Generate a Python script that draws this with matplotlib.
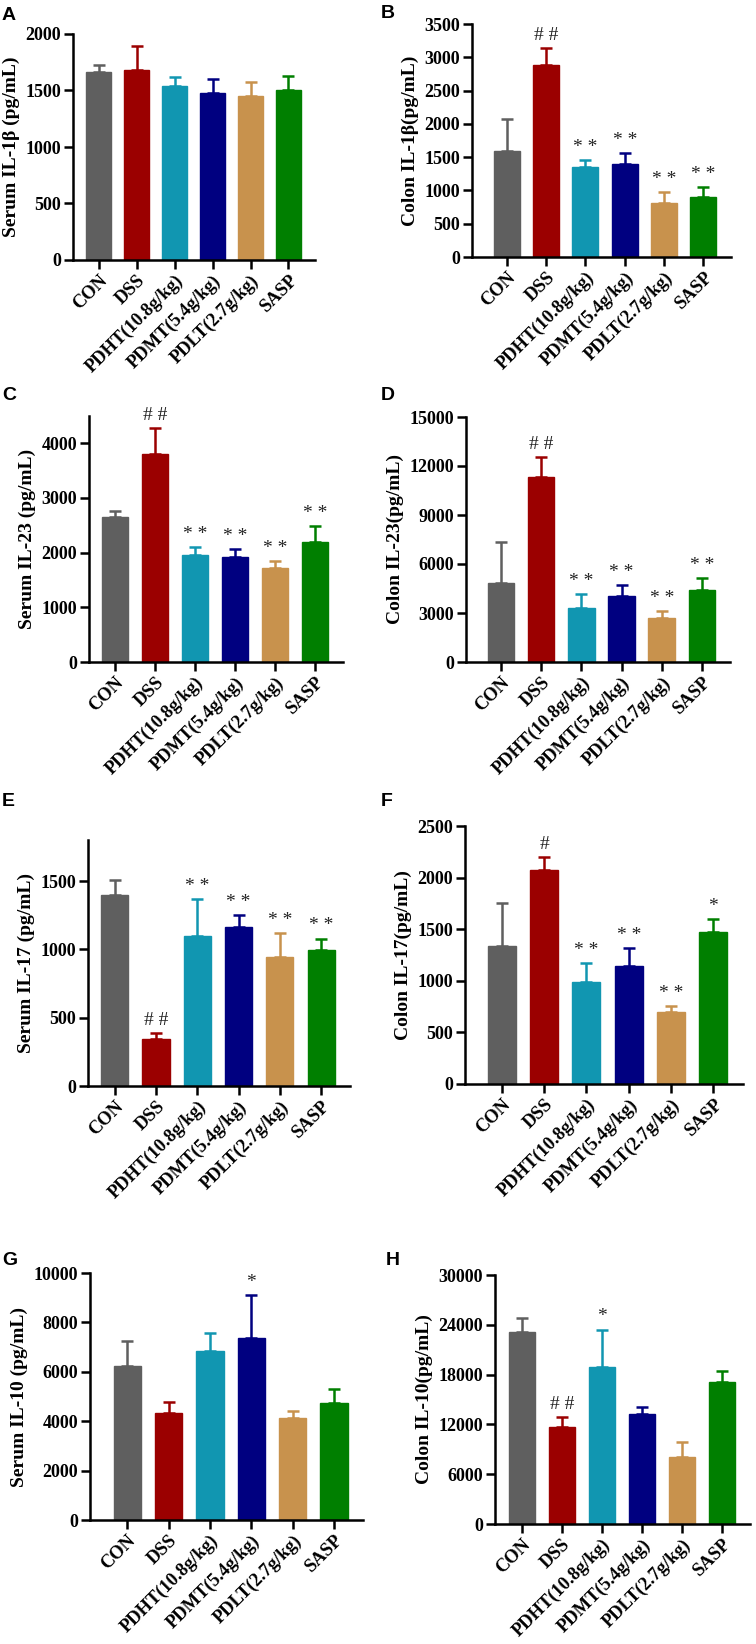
import matplotlib
matplotlib.use("Agg")
import matplotlib.pyplot as plt

# grupos y colores
groups = ["CON", "DSS", "PDHT(10.8g/kg)", "PDMT(5.4g/kg)", "PDLT(2.7g/kg)", "SASP"]
colors = ["#5f5f5f", "#9b0000", "#1196b1", "#000080", "#c8924d", "#007f00"]

# medias y barras de error (media + DE)
a_mean = [1663, 1678, 1539, 1474, 1450, 1504]
a_err = [59, 216, 80, 130, 125, 124]
b_mean = [1597, 2879, 1352, 1392, 816, 906]
b_err = [481, 256, 100, 170, 155, 141]
c_mean = [2644, 3798, 1960, 1918, 1716, 2186]
c_err = [110, 477, 135, 152, 134, 306]
d_mean = [4829, 11316, 3335, 4031, 2681, 4379]
d_err = [2537, 1248, 798, 675, 450, 737]
e_mean = [1400, 345, 1101, 1162, 944, 998]
e_err = [105, 42, 269, 88, 177, 81]
f_mean = [1340, 2074, 992, 1147, 694, 1470]
f_err = [417, 122, 177, 171, 62, 129]
g_mean = [6216, 4351, 6824, 7351, 4122, 4743]
g_err = [1027, 446, 744, 1744, 297, 554]
h_mean = [23133, 11727, 18876, 13213, 8032, 17149]
h_err = [1726, 1165, 4538, 924, 1888, 1285]

# marcas de significancia
a_sig = ["", "", "", "", "", ""]
b_sig = ["", "##", "**", "**", "**", "**"]
c_sig = ["", "##", "**", "**", "**", "**"]
d_sig = ["", "##", "**", "**", "**", "**"]
e_sig = ["", "##", "**", "**", "**", "**"]
f_sig = ["", "#", "**", "**", "**", "*"]
g_sig = ["", "", "", "*", "", ""]
h_sig = ["", "##", "*", "", "", ""]

ylabels = ["Serum IL-1β (pg/mL)", "Colon IL-1β(pg/mL)", "Serum IL-23 (pg/mL)", "Colon IL-23(pg/mL)",
           "Serum IL-17 (pg/mL)", "Colon IL-17(pg/mL)", "Serum IL-10 (pg/mL)", "Colon IL-10(pg/mL)"]
letters = ["A", "B", "C", "D", "E", "F", "G", "H"]
ylims = [2000, 3500, 4500, 15000, 1800, 2500, 10000, 30000]
yticks = [[0, 500, 1000, 1500, 2000],
          [0, 500, 1000, 1500, 2000, 2500, 3000, 3500],
          [0, 1000, 2000, 3000, 4000],
          [0, 3000, 6000, 9000, 12000, 15000],
          [0, 500, 1000, 1500],
          [0, 500, 1000, 1500, 2000, 2500],
          [0, 2000, 4000, 6000, 8000, 10000],
          [0, 6000, 12000, 18000, 24000, 30000]]

means = [a_mean, b_mean, c_mean, d_mean, e_mean, f_mean, g_mean, h_mean]
errs = [a_err, b_err, c_err, d_err, e_err, f_err, g_err, h_err]
sigs = [a_sig, b_sig, c_sig, d_sig, e_sig, f_sig, g_sig, h_sig]

# posicion de cada eje en pixeles: izquierda, derecha, arriba, abajo
boxes = [(73, 315, 34, 260), (472, 731, 24, 257),
         (89, 343, 416, 662), (466, 730, 417, 662),
         (88, 350, 840, 1086), (465, 743, 826, 1084),
         (90, 363, 1273, 1520), (495, 750, 1275, 1524)]
xleft = [-0.68, -0.88, -0.65, -0.87, -0.65, -0.87, -0.9, -0.67]
letter_pos = [(2, 7), (381, 5), (2, 387), (381, 387), (2, 793), (381, 793), (2, 1252), (386, 1252)]

W, H = 756, 1644
fig = plt.figure(figsize=(W / 100, H / 100), dpi=100)
serif = "Liberation Serif"

for i in range(8):
    l, r, t, b = boxes[i]
    ax = fig.add_axes([l / W, 1 - b / H, (r - l) / W, (b - t) / H])
    x = list(range(len(groups)))
    ax.bar(x, means[i], width=0.66, color=colors, edgecolor=colors, zorder=2)
    for j in x:
        ax.errorbar(j, means[i][j], yerr=[[0], [errs[i][j]]], color=colors[j],
                    capsize=4.3, elinewidth=1.8, capthick=1.8, zorder=1)
        if sigs[i][j]:
            top = means[i][j] + errs[i][j]
            ax.annotate(" ".join(sigs[i][j]) if len(sigs[i][j]) > 1 else sigs[i][j],
                        (j, top), xytext=(0, 3), textcoords="offset points",
                        ha="center", va="bottom", fontsize=14, family=serif, color="#222222")
    ax.set_xlim(xleft[i], 5.7)
    ax.set_ylim(0, ylims[i])
    ax.set_yticks(yticks[i])
    ax.set_yticklabels([str(v) for v in yticks[i]], fontsize=13, fontweight="bold", family=serif)
    ax.set_xticks(x)
    ax.set_xticklabels(groups, rotation=45, ha="right", rotation_mode="anchor",
                       fontsize=13.3, fontweight="bold", family=serif)
    ax.set_ylabel(ylabels[i], fontsize=14, fontweight="bold", family=serif, labelpad=4)
    for s in ["top", "right"]:
        ax.spines[s].set_visible(False)
    for s in ["left", "bottom"]:
        ax.spines[s].set_linewidth(1.8)
    ax.tick_params(axis="both", width=1.8, length=6.5, pad=2)
    lx, ly = letter_pos[i]
    fig.text(lx / W, 1 - ly / H, letters[i], fontsize=14, fontweight="bold",
             family="Liberation Sans", ha="left", va="top")

fig.savefig("out.png", dpi=100)
